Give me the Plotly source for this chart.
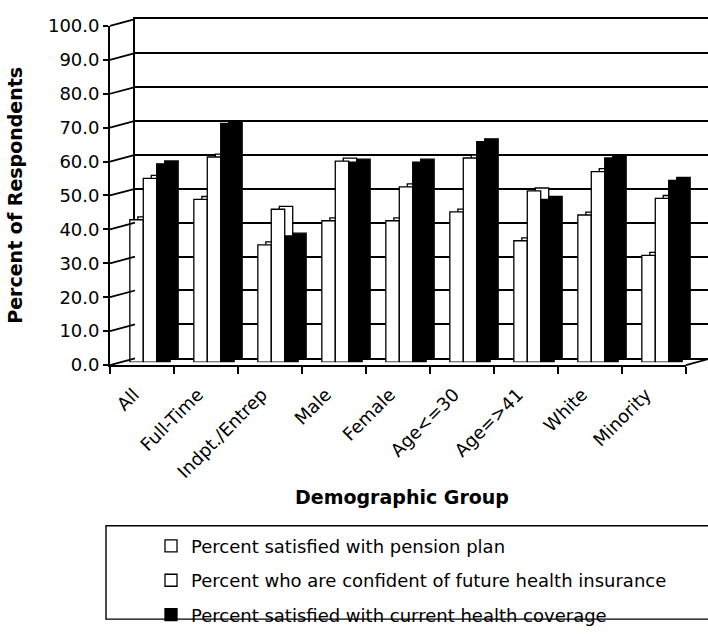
import plotly.graph_objects as go

# ---- data ----
categories = ["All", "Full-Time", "Indpt./Entrep", "Male", "Female",
              "Age<=30", "Age=>41", "White", "Minority"]
pension = [42.0, 48.0, 34.6, 41.7, 41.7, 44.3, 35.8, 43.4, 31.5]
confident = [54.2, 60.5, 45.1, 59.3, 51.7, 60.2, 50.5, 56.2, 48.3]
coverage = [58.5, 70.4, 37.2, 59.0, 59.0, 65.0, 48.0, 60.2, 53.6]
series_names = ["Percent satisfied with pension plan",
                "Percent who are confident of future health insurance",
                "Percent satisfied with current health coverage"]
series_fill = ["white", "white", "black"]
y_ticks = [0, 10, 20, 30, 40, 50, 60, 70, 80, 90, 100]

# ---- geometry (pixels) ----
W, H = 708, 634
FRONT_X0, FRONT_X1 = 110, 686      # front edge of the floor
FRONT_Y0, FRONT_Y100 = 368, 15.5   # value 0 and 100 on the front axis
WALL_DX, WALL_DY = 25, -7          # back wall offset
BAR_DX, BAR_DY = 8, -3             # front faces of the columns
DEPTH_DX, DEPTH_DY = 16, -6        # rear faces of the columns
FONT = "DejaVu Sans"


def xdom(dx, right=None):
    x1 = (FRONT_X1 + dx) / W if right is None else right
    return [(FRONT_X0 + dx) / W, min(x1, 1.0)]


def ydom(dy):
    return [1 - (FRONT_Y0 + dy) / H, 1 - (FRONT_Y100 + dy) / H]


def px(x):
    return x / W


def py(y):
    return 1 - y / H


fig = go.Figure()

# carrier for the back wall subplot (invisible)
fig.add_trace(go.Scatter(
    x=categories, y=pension, mode="markers", marker=dict(opacity=0),
    showlegend=False, hoverinfo="skip", xaxis="x", yaxis="y"))

# rear faces (give the columns their depth)
vals = [pension, confident, coverage]
for name, v, fill in zip(series_names, vals, series_fill):
    fig.add_trace(go.Bar(
        x=categories, y=v, name=name, showlegend=False, hoverinfo="skip",
        marker=dict(color=fill, line=dict(color="black", width=1.3)),
        xaxis="x2", yaxis="y2"))

# front faces
for i, (name, v, fill) in enumerate(zip(series_names, vals, series_fill)):
    fig.add_trace(go.Bar(
        x=categories, y=v, name=name, legendgroup=f"g{i}",
        marker=dict(color=fill, line=dict(color="black", width=1.3)),
        xaxis="x3", yaxis="y3"))

# carrier for the front category axis (invisible)
fig.add_trace(go.Scatter(
    x=categories, y=pension, mode="markers", marker=dict(opacity=0),
    showlegend=False, hoverinfo="skip", xaxis="x4", yaxis="y4"))

cat_axis = dict(type="category", categoryorder="array", categoryarray=categories,
                range=[-0.5, len(categories) - 0.5], showgrid=False,
                zeroline=False, showline=False, showticklabels=False, ticks="")
val_axis = dict(range=[0, 100], showgrid=False, zeroline=False,
                showline=False, showticklabels=False, ticks="")

fig.update_layout(
    width=W, height=H,
    margin=dict(l=0, r=0, t=0, b=0),
    paper_bgcolor="white", plot_bgcolor="rgba(0,0,0,0)",
    font=dict(family=FONT, size=18, color="black"),
    barmode="group", bargap=0.37, bargroupgap=0,
    # back wall with gridlines (top and bottom edges drawn as mirrored lines)
    xaxis=dict(cat_axis, domain=xdom(WALL_DX, right=1.0), anchor="y",
               showline=True, mirror=True, linecolor="black", linewidth=1.8),
    yaxis=dict(val_axis, domain=ydom(WALL_DY), anchor="x",
               showgrid=True, gridcolor="black", gridwidth=1.8, dtick=10,
               zeroline=True, zerolinecolor="black", zerolinewidth=1.8,
               showline=True, linecolor="black", linewidth=1.8),
    xaxis2=dict(cat_axis, domain=xdom(DEPTH_DX), anchor="y2"),
    yaxis2=dict(val_axis, domain=ydom(DEPTH_DY), anchor="x2"),
    xaxis3=dict(cat_axis, domain=xdom(BAR_DX), anchor="y3"),
    yaxis3=dict(val_axis, domain=ydom(BAR_DY), anchor="x3"),
    # front axes: ticks and labels
    xaxis4=dict(type="category", categoryorder="array", categoryarray=categories,
                range=[-0.5, len(categories) - 0.5], domain=xdom(0), anchor="y4",
                showgrid=False, zeroline=False, showline=True, linecolor="black",
                linewidth=1.8, ticks="outside", tickson="boundaries", ticklen=7,
                tickwidth=1.8, tickcolor="black", tickangle=-45,
                tickfont=dict(family=FONT, size=18), ticklabelshift=-8,
                ticklabelstandoff=10),
    yaxis4=dict(range=[0, 100], domain=ydom(0), anchor="x4", tickvals=y_ticks,
                tickformat=".1f", showgrid=False, zeroline=False, showline=True,
                linecolor="black", linewidth=1.8, ticks="outside", ticklen=5,
                tickwidth=1.8, tickcolor="black",
                tickfont=dict(family=FONT, size=18)),
    showlegend=True,
    legend=dict(x=px(151), y=py(537), xanchor="left", yanchor="top",
                traceorder="grouped", tracegroupgap=8,
                font=dict(family=FONT, size=18), bgcolor="rgba(0,0,0,0)",
                borderwidth=0, itemclick=False, itemdoubleclick=False),
)

# side wall lines joining front ticks to the back wall, and floor edges
shapes = []
for t in y_ticks:
    yf = FRONT_Y0 - (FRONT_Y0 - FRONT_Y100) * t / 100
    shapes.append(dict(type="line", xref="paper", yref="paper",
                       x0=px(FRONT_X0), y0=py(yf),
                       x1=px(FRONT_X0 + WALL_DX), y1=py(yf + WALL_DY),
                       line=dict(color="black", width=1.8)))
shapes.append(dict(type="line", xref="paper", yref="paper",
                   x0=px(FRONT_X1), y0=py(FRONT_Y0),
                   x1=px(FRONT_X1 + WALL_DX), y1=py(FRONT_Y0 + WALL_DY),
                   line=dict(color="black", width=1.8)))
# legend frame
shapes.append(dict(type="rect", xref="paper", yref="paper",
                   x0=px(106), y0=py(632), x1=px(720), y1=py(535),
                   line=dict(color="black", width=1.4)))
fig.update_layout(shapes=shapes)

fig.add_annotation(text="<b>Percent of Respondents</b>", xref="paper", yref="paper",
                   x=px(15), y=py(192), textangle=-90, showarrow=False,
                   font=dict(family=FONT, size=19), xanchor="center", yanchor="middle")
fig.add_annotation(text="<b>Demographic Group</b>", xref="paper", yref="paper",
                   x=px(402), y=py(505), showarrow=False,
                   font=dict(family=FONT, size=19), xanchor="center", yanchor="middle")

fig.write_html("out.html")
